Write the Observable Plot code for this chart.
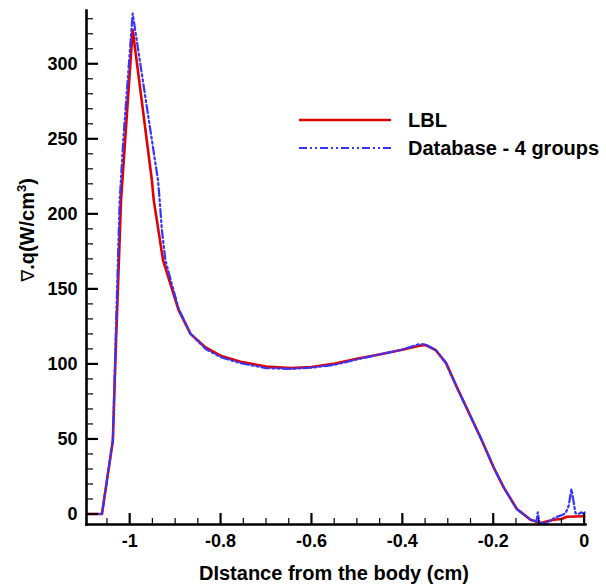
<!DOCTYPE html>
<html><head><meta charset="utf-8">
<script src="https://cdn.jsdelivr.net/npm/d3@7"></script>
<script src="https://cdn.jsdelivr.net/npm/@observablehq/plot@0.6"></script>
<style>
html,body{margin:0;padding:0;background:#fff;}
#wrap{position:relative;width:606px;height:588px;overflow:hidden;}
#wrap svg{display:block;}
</style></head>
<body><div id="wrap"></div>
<script>
// ---- data ----
const seriesNames = ["LBL", "Database - 4 groups"];
const seriesColors = ["#e00000", "#3535ff"];

const lblX = [-1.093, -1.061, -1.037, -1.030, -1.019, -0.9934, -0.951, -0.947, -0.9265, -0.8925, -0.866, -0.833, -0.800, -0.756, -0.700, -0.646, -0.600, -0.548, -0.500, -0.448, -0.400, -0.365, -0.350, -0.327, -0.304, -0.280, -0.228, -0.199, -0.177, -0.148, -0.118, -0.096, -0.067, -0.050, -0.038, 0.000];
const lblY = [0, 0, 49, 115, 209, 322.7, 222, 209, 169, 136, 120, 111, 105.5, 101.5, 98.2, 97.2, 98, 100.2, 103.5, 106.5, 109.5, 112, 112.7, 109.3, 100.7, 84.4, 51, 31, 17.7, 3.3, -3.8, -6, -3.8, -3.3, -1.8, -1.5];

const dbX = [-1.093, -1.061, -1.037, -1.031, -1.022, -1.013, -0.9934, -0.9375, -0.9345, -0.929, -0.9214, -0.8925, -0.866, -0.833, -0.800, -0.756, -0.700, -0.646, -0.600, -0.548, -0.500, -0.448, -0.400, -0.365, -0.350, -0.327, -0.304, -0.280, -0.228, -0.199, -0.177, -0.148, -0.118, -0.105, -0.102, -0.098, -0.085, -0.074, -0.063, -0.052, -0.041, -0.034, -0.028, -0.023, -0.019, -0.012, -0.007, -0.002, 0.001];
const dbY = [0, 0, 49, 115, 209, 254, 333.5, 222, 211, 189, 169, 137, 120, 110, 104.5, 100.5, 97.2, 96.7, 97.5, 99.5, 103, 106.5, 109.5, 113, 113, 109.5, 100.5, 84.4, 51, 31, 17.7, 3.3, -3.8, -5, 1.1, -6, -6, -4.4, -2.2, -1.1, 0.4, 5.5, 16.7, 7.8, 0.4, 0, 1.1, 0.4, 1.1];

const xMajor = [-1, -0.8, -0.6, -0.4, -0.2, 0];
const xMinor = [-1.05, -0.95, -0.9, -0.85, -0.75, -0.7, -0.65, -0.55, -0.5, -0.45, -0.35, -0.3, -0.25, -0.15, -0.1, -0.05];
const yMajor = [0, 50, 100, 150, 200, 250, 300];
const yMinor = [10, 20, 30, 40, 60, 70, 80, 90, 110, 120, 130, 140, 160, 170, 180, 190, 210, 220, 230, 240, 260, 270, 280, 290, 310, 320, 330];

const xTitle = "DIstance from the body (cm)";
const yTitleMain = "\u2207.q(W/cm";
const yTitleSup = "3";
const yTitleEnd = ")";

const lbl = lblX.map((x, i) => ({x, y: lblY[i]}));
const db = dbX.map((x, i) => ({x, y: dbY[i]}));

const font = "'Liberation Sans', Arial, Helvetica, sans-serif";

const W = 606, H = 588, mL = 86, mR = 21, mT = 10, mB = 64;
const plotW = W - mL - mR, plotH = H - mT - mB;
const xDom = [-1.095, 0.003], yDom = [-7, 335.5];
// tick lengths (pixels) expressed in data units
const ux = (xDom[1] - xDom[0]) / plotW, uy = (yDom[1] - yDom[0]) / plotH;

const chart = Plot.plot({
  width: W, height: H,
  marginLeft: mL, marginRight: mR, marginTop: mT, marginBottom: mB,
  x: {domain: xDom},
  y: {domain: yDom},
  style: {fontFamily: font, fontWeight: "bold", fontSize: "18px", color: "#000", background: "#fff", overflow: "visible"},
  marks: [
    Plot.axisX({ticks: xMajor, tickSize: 0, tickPadding: 10, tickFormat: d => String(d), fontSize: 18, fontWeight: "bold", label: null}),
    Plot.axisY({ticks: yMajor, tickSize: 0, tickPadding: 9, tickFormat: d => String(d), fontSize: 18, fontWeight: "bold", label: null}),
    Plot.line(lbl, {x: "x", y: "y", stroke: seriesColors[0], strokeWidth: 2.6}),
    Plot.line(db, {x: "x", y: "y", stroke: seriesColors[1], strokeWidth: 2.2, strokeDasharray: "8,3,2,3,2,3"}),
    Plot.frame({anchor: "left", strokeWidth: 2.6, stroke: "#000"}),
    Plot.frame({anchor: "bottom", strokeWidth: 2.6, stroke: "#000"}),
    // inward ticks, drawn last
    Plot.ruleX(xMajor, {x: d => d, y1: yDom[0], y2: yDom[0] + 11 * uy, stroke: "#000", strokeWidth: 2.2}),
    Plot.ruleX(xMinor, {x: d => d, y1: yDom[0], y2: yDom[0] + 6 * uy, stroke: "#000", strokeWidth: 1.2}),
    Plot.ruleY(yMajor, {y: d => d, x1: xDom[0], x2: xDom[0] + 12 * ux, stroke: "#000", strokeWidth: 2.2}),
    Plot.ruleY(yMinor, {y: d => d, x1: xDom[0], x2: xDom[0] + 7 * ux, stroke: "#000", strokeWidth: 1.2})
  ]
});
const wrap = document.getElementById("wrap");
wrap.appendChild(chart);

// axis titles and legend, added inside the chart's own SVG
const NS = "http://www.w3.org/2000/svg";
function el(tag, attrs, text) {
  const e = document.createElementNS(NS, tag);
  for (const k in attrs) e.setAttribute(k, attrs[k]);
  if (text != null) e.textContent = text;
  return e;
}
const ov = el("g", {"font-family": font, "font-weight": "bold", fill: "#000"});
// x title
ov.appendChild(el("text", {x: 334, y: 580, "text-anchor": "middle", "font-size": 20}, xTitle));
// y title
const yt = el("text", {transform: "translate(33.5,230) rotate(-90)", "text-anchor": "middle", "font-size": 20});
yt.appendChild(el("tspan", {"font-weight": "normal", "font-family": "'DejaVu Sans', sans-serif", "font-size": 18}, yTitleMain.slice(0, 1)));
yt.appendChild(el("tspan", {}, yTitleMain.slice(1)));
yt.appendChild(el("tspan", {dy: -8, "font-size": 13}, yTitleSup));
yt.appendChild(el("tspan", {dy: 8}, yTitleEnd));
ov.appendChild(yt);
// legend
const legY = [120, 148];
const legBase = [127, 154.5];
seriesNames.forEach((name, i) => {
  const ln = el("line", {x1: 299, x2: 391, y1: legY[i], y2: legY[i], stroke: seriesColors[i], "stroke-width": i === 0 ? 2.6 : 2.2});
  if (i === 1) ln.setAttribute("stroke-dasharray", "8,3,2,3,2,3");
  ov.appendChild(ln);
  ov.appendChild(el("text", {x: 408, y: legBase[i], "text-anchor": "start", "font-size": 20}, name));
});
chart.appendChild(ov);
</script>
</body></html>
